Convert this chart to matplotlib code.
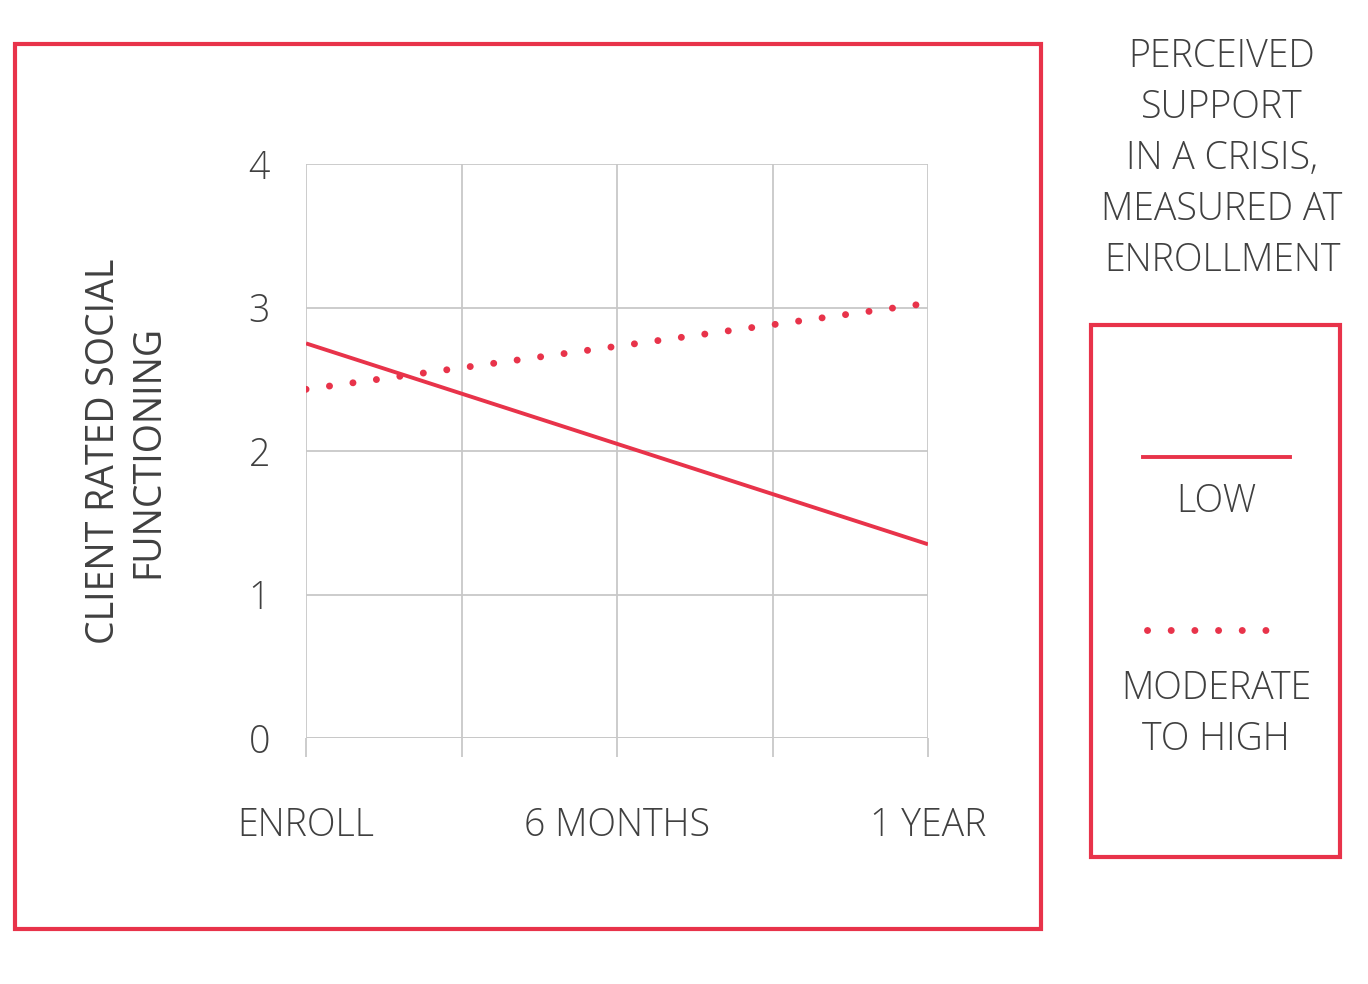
import matplotlib
matplotlib.use("Agg")
import matplotlib.pyplot as plt
from matplotlib.patches import Rectangle
from matplotlib.lines import Line2D

x = [0, 4]
low = [2.75, 1.35]
moderate = [2.43, 3.03]
xtick_pos = [0, 2, 4]
xtick_labels = ["ENROLL", "6 MONTHS", "1 YEAR"]
yticks = [0, 1, 2, 3, 4]
red = "#E8334A"
txt = "#404040"
plt.rcParams['font.family'] = ['Open Sans', 'DejaVu Sans']
plt.rcParams['font.weight'] = 'light'
FS = 27
dots = (0, (0.01, 3.4))

fig = plt.figure(figsize=(13.68, 9.84), dpi=100)
ax = fig.add_axes([306/1368, 1-738/984, 622/1368, 574/984])
ax.plot(x, low, color=red, lw=2.8, solid_capstyle='butt')
ax.plot(x, moderate, color=red, lw=5, linestyle=dots, dash_capstyle='round')
ax.set_xlim(0, 4); ax.set_ylim(0, 4)
ax.set_xticks([0, 1, 2, 3, 4]); ax.set_xticklabels([])
ax.set_yticks(yticks); ax.set_yticklabels([str(v) for v in yticks], fontsize=FS, color=txt)
ax.grid(True, color="#c8c8c8", lw=1.3)
for s in ax.spines.values(): s.set_visible(False)
ax.tick_params(axis='x', length=14, color="#c8c8c8", width=1.3)
ax.tick_params(axis='y', length=0, pad=26)
ax.axhline(0, color="#c8c8c8", lw=1.3)
for p, l in zip(xtick_pos, xtick_labels):
    ax.annotate(l, (p, 0), xytext=(0, -88), textcoords='offset pixels',
                ha='center', va='center', fontsize=FS, color=txt, annotation_clip=False)
ax.set_ylabel("CLIENT RATED SOCIAL\nFUNCTIONING", fontsize=FS, color=txt, labelpad=58, linespacing=1.25)

fig.patches.append(Rectangle((15/1368, 1-929/984), 1026/1368, 885/984, transform=fig.transFigure,
                             fill=False, ec=red, lw=3))
fig.patches.append(Rectangle((1091/1368, 1-857/984), 249/1368, 532/984, transform=fig.transFigure,
                             fill=False, ec=red, lw=3))
fig.text(1222/1368, 1-159/984, "PERCEIVED\nSUPPORT\nIN A CRISIS,\nMEASURED AT\nENROLLMENT",
         ha='center', va='center', fontsize=FS, color=txt, linespacing=1.42)
fig.lines.append(Line2D([1143/1368, 1290/1368], [1-457/984]*2, transform=fig.transFigure, color=red, lw=2.8))
fig.lines.append(Line2D([1147/1368, 1287/1368], [1-630/984]*2, transform=fig.transFigure, color=red, lw=5,
                        linestyle=dots, dash_capstyle='round'))
fig.text(1216/1368, 1-502/984, "LOW", ha='center', va='center', fontsize=FS, color=txt)
fig.text(1216/1368, 1-714/984, "MODERATE\nTO HIGH", ha='center', va='center', fontsize=FS, color=txt, linespacing=1.42)
fig.savefig("out.png", dpi=100)
